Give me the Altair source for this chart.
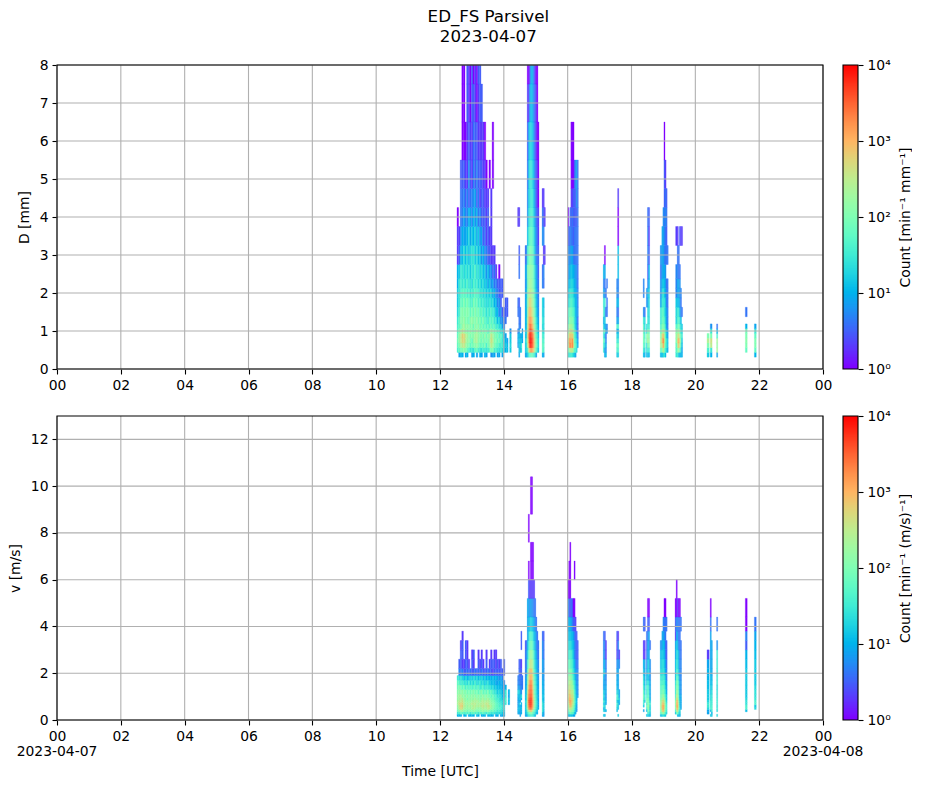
import altair as alt
import numpy as np
import pandas as pd

TITLE = ["ED_FS Parsivel", "2023-04-07"]
FONT = "DejaVu Sans"
D_EDGES = [.312,.437,.562,.687,.812,.937,1.062,1.187,1.375,1.625,1.875,2.125,2.375,2.75,3.25,3.75,4.25,4.75,5.5,6.5,7.5,8.5]
V_EDGES = [.15,.25,.35,.45,.55,.65,.75,.85,.95,1.1,1.3,1.5,1.7,1.9,2.2,2.6,3.0,3.4,3.8,4.4,5.2,6.0,6.8,7.6,8.8,10.4]

# each block: (start minute, column width in minutes, columns of counts, lowest class first, 0 = none)
d_burst1 = [(752, 3, [
 [0,40,60,80,60,50,40,30,20,15,15,10,10,2,2,1],
 [8,60,100,150,150,100,60,60,40,30,30,30,15,3,2],
 [10,80,200,300,300,150,80,120,100,70,40,40,30,12,6,4,4,3],
 [10,100,300,500,600,300,150,120,120,60,60,30,30,12,10,5,4,3,1,1,1],
 [0,120,350,500,500,200,200,150,100,100,50,40,20,25,8,8,5,3,1,1,1],
 [8,100,200,300,300,150,120,100,100,60,60,25,30,12,8,5,3,2,1],
 [10,60,120,150,200,120,150,100,120,100,40,50,20,25,10,5,5,2,2,3,3],
 [0,40,100,150,120,100,120,70,100,60,50,25,30,12,20,10,3,6,3,2,2],
 [0,30,60,100,100,150,100,120,60,50,30,30,15,20,8,8,4,3,2,1,1],
 [8,30,80,60,120,100,120,150,100,40,40,20,30,25,15,5,5,2,2,3,3],
 [10,25,100,150,120,120,70,120,70,100,40,50,25,30,10,12,6,5,4,3,1],
 [0,60,120,200,200,120,150,100,120,60,60,30,50,15,20,6,8,3,3,2,2],
 [8,60,150,250,200,200,100,150,70,80,40,40,20,25,8,10,3,5,3,1,1],
 [0,40,100,120,150,120,150,80,100,40,50,20,30,12,15,4,5,3,2,2,3],
 [10,30,60,100,100,120,70,100,50,50,25,30,15,15,6,6,2,3,2,3,3],
 [8,25,80,80,120,80,100,60,70,30,30,15,25,6,8,3,3,3,2,3],
 [0,40,60,120,80,120,60,100,40,40,20,25,12,10,3,3,3,2,2],
 [10,30,100,80,150,80,80,50,50,25,25,12,15,5,4,3,2,2,1],
 [8,30,40,100,80,100,50,50,25,25,15,15,6,5,2,2,2,1],
 [0,30,80,80,120,50,70,30,40,20,20,8,12,3,3,3,2],
 [0,60,120,150,120,100,50,70,30,30,15,15,6,3,2,0,0,1],
 [6,100,300,400,350,150,80,50,50,20,20,6,6,2,2,2,2],
 [8,100,200,300,200,120,50,60,30,25,8,8,3,2,0,0,0,1,1],
 [8,40,100,100,120,80,70,30,30,10,12,4,4,2],
 [0,40,60,100,70,80,30,30,10,12,5,5,2],
 [8,30,60,60,100,50,40,12,12,5,5,3],
 [8,25,40,80,50,50,20,20,5,6,3,3,1],
 [0,30,30,50,60,25,20,6,6,3,3,3],
 [8,20,40,30,40,25,8,6,3,0,3,3],
 [0,15,15,20,12,12,5,4,3],
 [0,10,15,10,8,0,0,4,3,3],
 [0,12,12,8,0,0,0,0,3,3],
 [0,0,0,0,0,0,0],
 [0,15,20,15,15,6],
])]
d_burst2 = [(866, 2, [
 [0,0,6,8,10,4,0,0,4,4,0,0,0,0,0,2],
 [8,15,20,15,10,8,5,4,4,3,0,0,4,3,0,2],
 [0,8,10,12,10,0,4,4,4],
 [0,20,30,15,8],
 [0,0,0,8,10,8],
 [],
 [],
 [8,15,15,20,12,15,10,10,10,8,8,6,8,4],
 [10,20,20,30,15,15,12,12,10,12,10,8,8,5],
 [15,30,200,300,400,300,250,200,150,120,100,80,100,40,12,6,5,4,3,2,1],
 [30,300,1000,1500,2000,1200,1000,800,600,300,200,150,120,60,30,20,15,12,8,2,1],
 [60,1000,5000,7000,6000,4000,2500,1500,1000,600,300,200,150,100,50,30,20,25,15,6,2],
 [60,1500,8000,9000,7000,5000,3000,1500,800,500,300,200,150,100,60,40,30,30,20,12,8],
 [80,1500,5000,6000,4000,3000,1500,1000,500,300,200,150,120,80,60,40,30,25,15,12,10],
 [60,1000,3000,3000,2500,1500,800,500,300,200,150,100,100,60,40,30,25,15,12,8,8],
 [40,500,1000,1000,800,500,300,200,150,100,80,60,50,30,25,15,12,10,6,5,4],
 [30,150,300,300,200,150,120,100,60,40,30,25,20,12,10,8,6,4,3,3,2],
 [8,60,100,100,60,50,40,30,20,15,12,10,8,5,5,4,3,3,2,2,1],
 [0,30,50,40,40,30,20,15,10,8,8,6,6,4,4,3,2,2,1,1,1],
 [0,15,20,20,15,12,10,8,6,5,4,4,3,3,2,2,1,1,1],
 [],
 [],
 [],
 [10,60,60,50,40,30,20,30,20,20,0,5,4,0,6,4,2],
 [8,40,50,40,30,20,20,20,15,12,0,4,5,2,5,3,2],
 [0,0,0,0,0,0,0,0,0,0,0,0,0,2,0,2],
])]
d_burst3 = [(960, 2, [
 [20,40,80,120,100,60,40,20,30,15,10,8,5,6,3,1],
 [30,150,1000,1200,600,300,200,100,60,30,20,12,8,5,3],
 [30,300,2500,1500,800,400,200,120,80,40,30,15,10,6,5,4],
 [40,300,1000,800,600,400,200,120,80,50,30,20,15,8,4,3,2,1,1],
 [30,300,2000,1800,700,300,150,100,60,40,30,20,12,8,4,4,2,1,1],
 [20,150,600,500,300,150,100,80,50,30,20,15,10,5,3,3,3,1,1],
 [15,50,100,80,60,50,40,30,30,20,12,10,8,4,4,3,3,3],
 [8,40,60,40,30,25,15,15,12,10,10,8,6,4,4,3,3,5],
 [0,20,30,25,15,10,8,8,8,10,8,6,6,4,4,3,6,8],
 [0,0,10,8,5,4,4,4,6,5,5,4,4,4,4,4,4,4],
])]
d_clusters = [
 (1027, 2, [[0,30,40,60,30,40,20,10,40,30,8,5,10,0],[10,8,20,40,15,60,10,15,20,30,6,4,8,1]]),
 (1031, 2, [[10,6,8,5,4,8,8,0,4,0,4],[0,0,0,0,0,6,5,0,4,4,0,4]]),
 (1052, 2, [[15,40,60,30,20,10,40,8,5,10,6,5]]),
 (1054, 2, [[15,40,60,30,15,10,40,8,4,10,5,5,12,12,1,1,2]]),
 (1102, 2, [[12,30,60,80,100,60,60,30,6,0,5,5]]),
 (1104, 2, [[10,20,40,60,40,30,20,20,4,0,0,0,0]]),
 (1108, 2, [[10,20,20,60,100,20,20,0,0,6,6,0,0,0,0]]),
 (1110, 2, [[15,40,120,250,200,100,40,30,20,8,12,5,3,5,5,4]]),
 (1112, 2, [[10,30,80,150,100,60,30,20,20,20,15,10,10,3,2,3]]),
 (1134, 3, [[12,60,200,200,120,60,40,30,30,8,6,6,4,6]]),
 (1137, 2, [[12,100,300,800,500,200,100,60,50,30,20,12,8,8,8]]),
 (1139, 2, [[20,300,1200,2000,800,300,100,80,60,30,30,15,8,8,8,6]]),
 (1141, 2, [[30,100,300,500,300,150,80,50,30,30,15,12,10,5,5,4,3,3,1]]),
 (1143, 2, [[12,40,60,80,60,40,30,20,15,15,10,8,6,4,4,6,4,2]]),
 (1145, 2, [[0,20,30,30,15,15,8,8,8,5,5,4,0,4,3,4,3]]),
 (1147, 2, [[0,10,15,15,8,8,5,5,5,4,4,4,0,4]]),
 (1163, 3, [[30,50,60,100,150,120,50,20,20,15,5,5,5,0,2]]),
 (1166, 2, [[30,100,300,500,300,120,60,40,30,12,8,8,5,4,2]]),
 (1168, 2, [[15,200,800,1200,500,200,100,50,30,12,8,8,4,4]]),
 (1170, 2, [[10,80,300,500,200,100,50,30,12,8,6,6,4,0,3]]),
 (1172, 2, [[10,30,60,100,60,30,20,12,5,4,5,0,0,0,2]]),
 (1174, 2, [[10,8,12,15,30,20,15,0,4,0,0,0,0,0,2]]),
 (1222, 4, [[15,40,100,250,100]]),
 (1228, 3.5, [[10,30,300,400,100,30,6]]),
 (1240, 2, [[8,200,150,200,40,10,4]]),
 (1294, 3.5, [[0,60,100,120,100,80,10,0,4]]),
 (1311, 3.5, [[10,60,100,100,60,30,8]]),
]
v_burst1 = [(752, 3, [
 [10,30,80,120,150,200,200,150,150,120,80,60,30],
 [12,40,120,300,300,400,300,200,200,150,100,50,25,5,3],
 [10,60,150,500,600,500,300,250,250,120,80,30,25,4,3,3,2],
 [0,60,200,400,600,500,400,300,150,150,60,40,20,5,2,3,3,2],
 [10,40,100,200,250,250,200,150,150,100,80,25,12,3,2],
 [12,50,120,150,200,150,150,150,100,120,40,30,20,3,3,3,3],
 [0,40,80,150,150,200,150,100,150,80,60,20,12,4,3,2,2],
 [10,60,100,150,200,150,150,120,100,100,40,40,12,3,2],
 [10,30,120,150,200,200,150,150,120,80,60,20,20,4],
 [12,50,100,250,200,300,200,150,150,100,40,30,15,3,3,2],
 [10,60,150,250,300,250,250,150,120,120,60,20,25,3,2,3],
 [0,40,120,200,250,300,200,200,150,80,50,40,15,4],
 [12,50,80,150,200,200,250,150,100,100,40,20,20,3],
 [10,30,100,150,250,200,200,150,150,60,60,25,12,4,3,2],
 [0,50,100,150,200,250,150,120,100,80,30,30,15,3,2],
 [10,40,120,200,300,250,250,150,120,120,40,20,20,4,3,2],
 [10,60,150,250,350,300,250,200,150,60,50,25,12,3,2],
 [10,40,100,200,250,250,200,120,100,80,25,15,15,3],
 [0,30,120,200,250,350,250,150,150,60,40,20,10,3,3,2],
 [10,50,150,300,400,350,250,200,100,100,30,25,12,4],
 [12,40,100,250,300,200,200,120,100,50,30,15,10,3,2],
 [10,30,60,150,200,150,120,100,60,60,20,12,10,3,3,2],
 [10,30,80,120,120,120,100,80,80,40,25,12,12,2,3],
 [0,30,50,80,100,100,80,60,50,30,15,12,10,3,3,2],
 [8,20,50,60,60,60,50,40,40,25,15,8,10,3,2,2],
 [10,25,30,50,60,50,40,40,25,15,12,8,8,3,3],
 [0,20,40,50,40,40,30,30,25,20,12,10,6,3,2],
 [8,20,25,40,40,30,25,20,20,15,10,8,8,3,3],
 [10,15,20,25,30,20,20,15,12,10,8,8,5,3],
 [8,12,15,20,20,15,15,12,8,8,6,5,0,3,3],
 [0,0,0,0,0,30,40,50,30,30,10],
 [],
 [0,0,0,0,0,10,12,15,8,10],
])]
v_burst2 = [(866, 2, [
 [0,8,10,10,8,6,8,8,10,15,6,5,5],
 [0,10,12,15,10,15,8,10,12,20,8,5,4,4,3],
 [8,6,8,10,12,0,8,15,10,8,5,4,4,3,3],
 [0,10,8,12,8,12,0,8,20,6,5,4,4,3,2,0,3,3],
 [0,0,0,0,0,0,0,0,0,0,4,4,4],
 [],
 [],
 [8,12,12,15,15,15,20,12,12,12,8,8,6,5,4,4,3],
 [8,15,20,30,30,30,30,20,20,15,12,10,8,6,5,6,4],
 [15,30,80,200,400,500,500,400,400,300,200,150,100,60,40,15,12,8,8,8],
 [30,60,300,1500,2000,2500,3000,2500,2000,1500,1000,600,400,300,100,60,30,15,12,8,3,1,0,1],
 [30,100,500,2500,4000,5000,5000,4000,3000,2500,2000,1500,1000,800,300,120,60,40,12,6,2],
 [40,120,800,3000,5000,6000,6000,5000,4000,3000,2500,2000,1200,800,400,200,80,50,20,8,2,1,1,0,1],
 [40,120,600,2000,3000,4000,4000,4000,3000,2500,2000,1500,1000,800,300,150,80,40,15,6,2,1,1,0,1],
 [30,60,200,800,1200,1200,1200,1000,1000,800,600,500,400,300,200,100,50,30,12,6,2,1,1],
 [20,40,80,200,300,300,300,250,200,150,120,100,80,60,50,40,20,12,8,4,2],
 [10,30,50,80,100,100,100,100,80,60,60,50,40,30,20,15,12,10,6,4],
 [0,12,20,30,40,40,40,40,30,30,30,25,20,15,12,10,6,6,4],
 [0,10,12,15,20,20,20,15,15,12,10,10,10,8,8,5,4,4],
 [0,0,0,10,8,8,8,8,8,8,8,8,6,6,5,4,4],
 [],
 [],
 [],
 [8,15,30,30,30,30,20,15,15,12,12,10,8,8,8,6,6,4],
 [8,8,12,15,15,15,12,10,12,10,8,8,6,6,6,4,4,3],
])]
v_burst3 = [(960, 2, [
 [12,30,40,60,80,100,120,150,200,200,150,100,80,60,40,20,20,15,8,8,1],
 [10,40,100,300,400,600,800,1000,800,600,400,300,200,100,80,40,20,12,10,3,1,1],
 [15,80,200,400,800,1200,1500,1000,800,500,300,250,150,100,60,40,25,15,10,3,1,1,1],
 [12,60,150,300,600,800,800,600,400,300,200,200,150,100,50,40,20,12,8,4],
 [15,50,100,200,300,400,500,500,400,300,200,150,80,50,40,25,15,12,5,3],
 [8,40,80,100,150,200,250,300,250,200,100,60,40,30,20,15,12,8,3,1],
 [8,15,30,50,60,80,80,80,60,50,40,30,20,15,12,6,6,5,3,1,0,1],
 [0,10,15,15,20,20,30,25,25,20,15,15,10,8,6,4,4,3,2],
 [0,0,6,8,8,10,12,10,10,8,8,6,6,6,4,3,3,3],
 [0,0,0,0,0,0,0,0,8,6,6,6,5,5,4,3,3],
])]
v_clusters = [
 (1027, 2, [[15,0,20,10,30,15,30,15,20,15,8,8,12,15,8,6,5,4]]),
 (1029, 2, [[12,0,12,15,20,15,20,12,15,12,8,8,6,12,10,5,5,3]]),
 (1031, 2, [[0,0,10,0,0,8,10,8,6,8,8,6,5,5,4,2,2]]),
 (1052, 2, [[0,0,12,20,30,40,20,30,40,15,12,10,8,8,5,2,2,3]]),
 (1054, 2, [[15,0,0,12,15,20,10,40,30,20,8,8,8,8,8,4,5,2]]),
 (1056, 2, [[0,0,0,0,0,8,12,15,8,8,0,0,0,0,5,2]]),
 (1102, 2, [[0,0,8,0,15,30,40,60,80,60,40,30,25,15,10,2,2,0,4]]),
 (1104, 2, [[0,0,0,0,0,0,15,30,30,20,15,12,10,8,8,2,2,0,3]]),
 (1108, 2, [[12,0,10,30,60,30,100,60,40,25,30,15,10,8,5,4,3,4]]),
 (1110, 2, [[20,30,80,100,150,100,100,100,60,60,50,30,15,15,15,8,8,5,3,1]]),
 (1112, 2, [[12,40,100,120,150,100,80,80,60,40,30,20,12,20,15,8,8,8,3,1]]),
 (1114, 2, [[10,15,20,15,20,30,15,10,8,8,8,8,6,6,6,0,4]]),
 (1134, 3, [[12,60,100,150,200,150,150,100,80,60,50,40,30,20,15,12,6]]),
 (1137, 2, [[20,100,500,800,800,600,400,200,120,80,60,40,30,20,20,15,8,8]]),
 (1139, 2, [[25,200,800,1200,1200,800,500,300,200,100,80,50,40,30,25,15,12,8,5]]),
 (1141, 2, [[20,100,300,500,500,400,300,200,100,60,50,40,30,20,15,12,10,6,4,1]]),
 (1143, 2, [[15,40,80,100,120,100,80,60,40,30,20,15,15,10,8,5,4,4,4,1]]),
 (1145, 2, [[0,20,30,40,40,30,20,15,15,10,8,8,5,5,4,3,3,0,4]]),
 (1162, 2, [[0,15,40,100,100,120,100,60,40,30,30,25,12,12,12,8,8,2,3,1]]),
 (1164, 2, [[0,60,200,500,800,800,600,400,300,150,100,80,60,40,30,20,15,8,5,1,1]]),
 (1166, 2, [[12,100,500,1000,1200,1000,800,500,300,200,120,100,60,40,25,20,12,8,5,2,0]]),
 (1168, 2, [[12,30,80,150,200,200,150,100,80,60,50,40,25,15,12,10,5,4,4,1]]),
 (1170, 2, [[10,15,20,30,20,15,15,12,10,8,8,8,6,6,5,5,4,4,4,1]]),
 (1172, 2, [[0,0,0,8,8,8,8,8,8,6,6,6,5,5,5,4,4,0,4]]),
 (1222, 4, [[0,8,8,20,30,30,20,15,15,15,12,12,10,10,8,2]]),
 (1228, 2, [[15,0,10,40,30,30,30,20,20,15,15,12,12,10,8,8,8,8,4,1]]),
 (1230, 2, [[15,10,30,40,40,30,30,30,25,20,15,12,10,8,8,8,8]]),
 (1240, 2, [[20,0,20,30,25,30,30,30,25,25,20,30,30,30,30,30,6,0,4]]),
 (1294, 3.5, [[0,0,12,40,40,25,25,20,15,15,15,15,15,15,12,10,3,5,1,1]]),
 (1311, 3.5, [[0,0,0,20,15,40,40,30,25,25,20,15,15,15,15,12,10,8,4]]),
]
EXPONENTS = [0, 1, 2, 3, 4]


def to_cells(blocks, edges):
    rows = []
    for start, width, cols in blocks:
        for k, col in enumerate(cols):
            for b, c in enumerate(col):
                if c > 0:
                    rows.append(dict(t0=(start + k * width) / 60, t1=(start + (k + 1) * width) / 60,
                                     y0=edges[b], y1=edges[b + 1], c=c))
    return pd.DataFrame(rows)


def rainbow(x):
    r = min(abs(2 * x - .5), 1)
    g = np.sin(np.pi * x)
    b = np.cos(np.pi * x / 2)
    return "#%02x%02x%02x" % tuple(int(round(255 * max(v, 0))) for v in (r, g, b))


stops = np.linspace(0, 1, 17)
color_scale = alt.Scale(type="log", domain=[float(10 ** (4 * s)) for s in stops],
                        range=[rainbow(s) for s in stops], interpolate="rgb", clamp=True)
AX = dict(grid=False, domain=False, tickColor="black", tickSize=5, tickWidth=1.1,
          labelColor="black", titleColor="black", labelFontSize=13.9, titleFontSize=13.9,
          labelFont=FONT, titleFont=FONT, titleFontWeight="normal", labelPadding=4)
HOURS = list(range(0, 25, 2))
W, H = 766, 304


def panel(df, ydomain, yvalues, ytitle, bottom):
    xs = alt.X("t0:Q", scale=alt.Scale(domain=[0, 24], nice=False),
               axis=alt.Axis(values=HOURS, labelExpr="pad(datum.value % 24, 2, '0', 'left')",
                             title="Time [UTC]" if bottom else None, titlePadding=22, labelFlush=False, **AX))
    ys = alt.Y("y0:Q", scale=alt.Scale(domain=ydomain, nice=False),
               axis=alt.Axis(values=yvalues, title=ytitle, titlePadding=8, labelOverlap=False, **AX))
    cells = alt.Chart(df).mark_rect(strokeWidth=0.3, clip=True).encode(
        x=xs, x2="t1:Q", y=ys, y2="y1:Q",
        color=alt.Color("c:Q", scale=color_scale, legend=None),
        stroke=alt.Stroke("c:Q", scale=color_scale, legend=None),
    )
    vgrid = alt.Chart(pd.DataFrame({"t0": HOURS})).mark_rule(color="#b0b0b0", strokeWidth=1.1).encode(x=xs)
    hgrid = alt.Chart(pd.DataFrame({"y0": yvalues})).mark_rule(color="#b0b0b0", strokeWidth=1.1).encode(y=ys)
    frame = alt.Chart(pd.DataFrame({"a": [0]})).mark_rect(filled=False, stroke="black", strokeWidth=1.1).encode(
        x=alt.value(0), x2=alt.value(W), y=alt.value(0), y2=alt.value(H))
    layers = [cells, vgrid, hgrid, frame]
    if bottom:
        dates = pd.DataFrame({"t0": [0, 24], "label": ["2023-04-07", "2023-04-08"]})
        layers.append(alt.Chart(dates).mark_text(font=FONT, fontSize=13.9, color="black", baseline="top").encode(
            x=xs, y=alt.value(H + 25), text="label:N"))
    return alt.layer(*layers).properties(width=W, height=H)


def colorbar(title):
    lv = np.logspace(0, 4, 257)
    bar = pd.DataFrame({"a": lv[:-1], "b": np.minimum(lv[1:] * 1.04, 1e4), "c": lv[:-1]})
    rect = alt.Chart(bar).mark_rect().encode(
        y=alt.Y("a:Q", scale=alt.Scale(type="log", domain=[1, 10000], nice=False),
                axis=alt.Axis(orient="right", values=[10 ** e for e in EXPONENTS], title=title, titleAngle=270, titleX=54,
                              titleY=H / 2,
                              labelExpr="'10' + ['⁰','¹','²','³','⁴'][round(log(datum.value) / LN10)]", **AX)),
        y2="b:Q",
        color=alt.Color("c:Q", scale=color_scale, legend=None),
    )
    frame = alt.Chart(pd.DataFrame({"a": [0]})).mark_rect(filled=False, stroke="black", strokeWidth=1.1).encode(
        x=alt.value(0), x2=alt.value(15), y=alt.value(0), y2=alt.value(H))
    return alt.layer(rect, frame).properties(width=15, height=H)


d_df = to_cells(d_burst1 + d_burst2 + d_burst3 + d_clusters, D_EDGES)
v_df = to_cells(v_burst1 + v_burst2 + v_burst3 + v_clusters, V_EDGES)

chart = alt.concat(
    panel(d_df, [0, 8], list(range(0, 9)), "D [mm]", False), colorbar("Count [min⁻¹ mm⁻¹]"),
    panel(v_df, [0, 13], list(range(0, 13, 2)), "v [m/s]", True), colorbar("Count [min⁻¹ (m/s)⁻¹]"),
    columns=2, spacing=alt.RowColnumber(row=47, column=20), bounds="flush",
).properties(
    title=alt.TitleParams(TITLE, font=FONT, fontSize=16.7, fontWeight="normal", color="black", anchor="start", align="center",
                          dx=480, offset=12, lineHeight=20),
    padding={"left": 0, "top": 1, "right": 0, "bottom": 0},
).resolve_scale(color="shared").configure_view(stroke=None)

chart.save("out.html", embed_options={"renderer": "svg", "actions": False})
